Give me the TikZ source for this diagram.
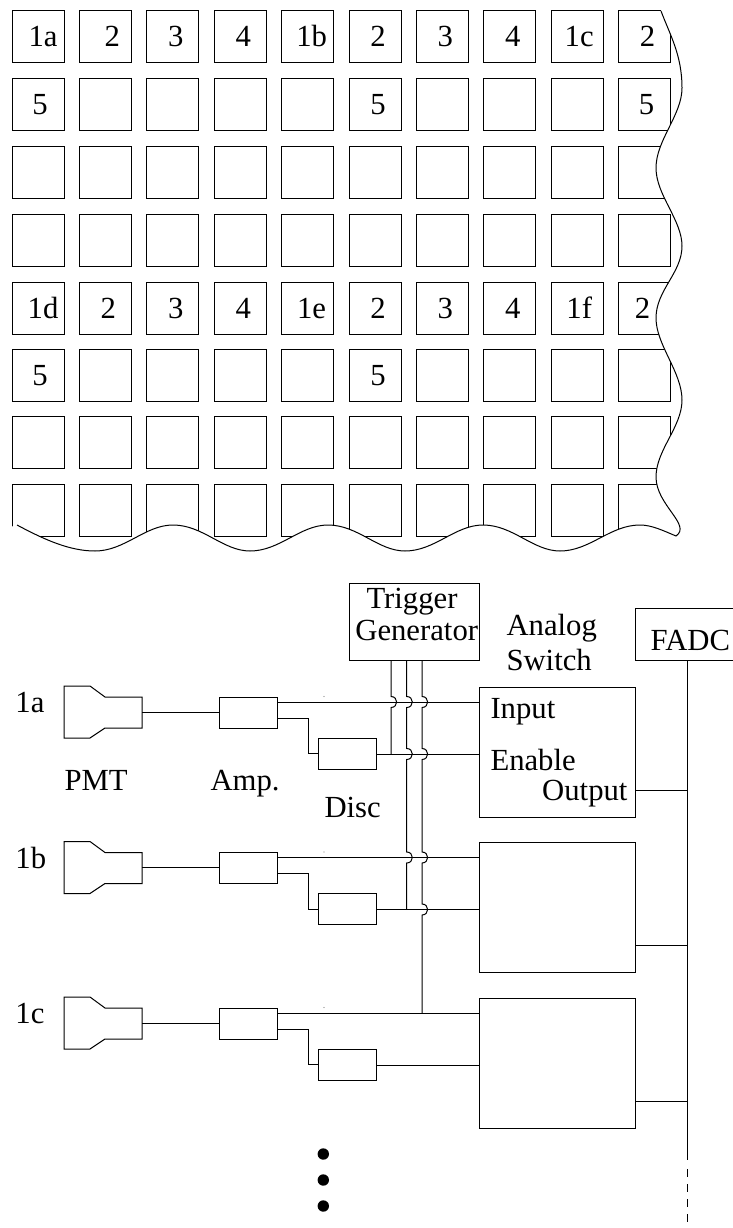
\documentclass[tikz,border=0pt]{standalone}
\usepackage{fontspec}
\setmainfont{Liberation Serif}
\newcommand{\hop}[2]{-- (#1,#2-5.5) .. controls (#1+7.5,#2-5.5) and (#1+7.5,#2+5.5) .. (#1,#2+5.5)}
\newcommand{\edgewave}{(17,525) .. controls (45,540) and (70,551) .. (95,551)
    .. controls (125,551) and (145,525) .. (173,525) .. controls (203,525) and (223,551) .. (250,551)
    .. controls (280,551) and (300,525) .. (328,525) .. controls (358,525) and (378,551) .. (405,551)
    .. controls (435,551) and (455,525) .. (483,525) .. controls (513,525) and (533,551) .. (560,551)
    .. controls (590,551) and (610,525) .. (640,525) .. controls (652,525) and (664,531) .. (676,536)
    .. controls (692,525) and (656,505) .. (656,477) .. controls (656,450) and (682,427) .. (682,400)
    .. controls (682,372) and (656,345) .. (656,318) .. controls (656,290) and (682,273) .. (682,246)
    .. controls (682,220) and (656,195) .. (656,168) .. controls (656,140) and (682,115) .. (682,88)
    .. controls (682,55) and (670,35) .. (661,11)}
\begin{document}
\begin{tikzpicture}[x=1pt, y=-1pt, line width=1pt, every node/.style={inner sep=0pt, font=\fontsize{30.7}{32}\selectfont},
    cell/.style={draw, minimum size=52pt},
    cellnum/.style={text height=20pt, text depth=0pt},
    blockbox/.style={draw, minimum width=#1, minimum height=31pt},
    switchbox/.style={draw, minimum width=156pt, minimum height=130pt},
    txt/.style={anchor=base west},
    mid/.style={anchor=base}]
    \useasboundingbox (0,0) rectangle (732,1228);
    \foreach \r/\y in {0/37, 1/105, 2/172, 3/240, 4/308, 5/375, 6/442, 7/510}
        \foreach \c in {0,...,9}
            \node[cell] (cell\c-\r) at ({38+67.4*\c},\y) {};
    \foreach \c/\r/\t/\s in {0/0/1a/5, 1/0/2/7, 2/0/3/3, 3/0/4/3, 4/0/1b/4, 5/0/2/3, 6/0/3/3, 7/0/4/3, 8/0/1c/2, 9/0/2/3,
        0/1/5/2, 5/1/5/3, 9/1/5/2,
        0/4/1d/5, 1/4/2/3, 2/4/3/3, 3/4/4/3, 4/4/1e/4, 5/4/2/3, 6/4/3/3, 7/4/4/3, 8/4/1f/2, 9/4/2/-2,
        0/5/5/2, 5/5/5/3}
        \node[cellnum, xshift=\s] (num\c-\r) at (cell\c-\r) {\t};
    \fill[white] (0,530) -- \edgewave -- (661,0) -- (732,0) -- (732,565) -- (0,565) -- cycle;
    \fill[white] (660,490) rectangle (675,534);
    \draw \edgewave;

    \node[draw, minimum width=130pt, minimum height=77pt] (trig) at (414.3,621.5) {};
    \node[mid] (triglabel) at (412,608) {Trigger};
    \node[mid] (genlabel) at (416.7,640) {Generator};
    \node[txt] (analog) at (506,635) {Analog};
    \node[txt] (switch) at (506,670.7) {Switch};
    \node[draw, minimum width=98pt, minimum height=51.6pt] (fadc) at (684,634.5) {};
    \node[txt] (fadclabel) at (650,650) {FADC};
    \coordinate (bustop) at (687,660.3);
    \coordinate (busend) at (687,1160);
    \coordinate (busdash) at (687,1169);
    \coordinate (busstop) at (687,1224);
    \draw (bustop) -- (busend);
    \draw[dash pattern=on 8pt off 7pt] (busdash) -- (busstop);

    \foreach \n/\dy in {a/0, b/155.5, c/311} {
        \begin{scope}[yshift=-\dy pt]
            \node[txt] (row\n) at (15,712.7) {1\n};
            \draw (64,686) -- (90,686) -- (105,697) -- (142,697) -- (142,728) -- (105,728) -- (90,738) -- (64,738) -- cycle;
            \coordinate (pmt\n) at (142,712);
            \node[blockbox=58pt] (amp\n) at (248,712.5) {};
            \node[blockbox=58pt] (disc\n) at (347,753.5) {};
            \node[switchbox] (sw\n) at (557,752) {};
            \coordinate (in\n) at (479,702);
            \coordinate (en\n) at (479,754);
            \coordinate (out\n) at (635,790);
            \fill[gray] (324,696.5) circle (0.6pt);
            \draw (pmt\n) -- (amp\n.west |- pmt\n);
            \draw (amp\n.east |- in\n) -- (in\n);
            \draw (amp\n.east |- 0,718) -- (308,718) |- (disc\n.west);
            \draw (disc\n.east |- en\n) -- (en\n);
            \draw (out\n) -- (out\n -| bustop);
        \end{scope}
    }
    \node[txt] (pmtlabel) at (64,790) {PMT};
    \node[txt] (amplabel) at (210,790) {Amp.};
    \node[txt] (disclabel) at (324,817) {Disc};
    \node[txt] (inputlabel) at (490,718) {Input};
    \node[txt] (enablelabel) at (490,770) {Enable};
    \node[txt] (outputlabel) at (541.7,800.7) {Output};

    \coordinate (t1) at (391,660);
    \coordinate (t2) at (406.7,660);
    \coordinate (t3) at (422,660);
    \draw (t1) \hop{391}{702} -- (t1 |- ena);
    \draw (t2) \hop{406.7}{702} \hop{406.7}{754} \hop{406.7}{857.5} -- (t2 |- enb);
    \draw (t3) \hop{422}{702} \hop{422}{754} \hop{422}{857.5} \hop{422}{909.5} -- (t3 |- inc);

    \foreach \y in {1154, 1180, 1206}
        \fill (323.3,\y) circle (5.7pt);
\end{tikzpicture}
\end{document}
